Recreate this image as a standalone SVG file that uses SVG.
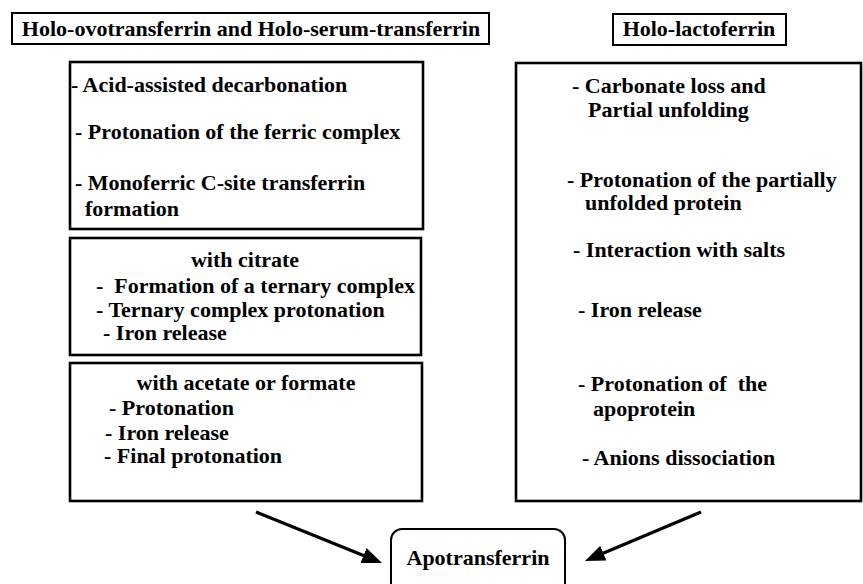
<svg xmlns="http://www.w3.org/2000/svg" width="863" height="584" viewBox="0 0 863 584">
<defs>
<style>
text{font-family:"Liberation Serif","Times New Roman",serif;font-weight:bold;font-size:22px;fill:#000;white-space:pre}
.box{fill:#fff;stroke:#000;stroke-width:2.6}
.hdr{fill:#fff;stroke:#000;stroke-width:2}
.mid{text-anchor:middle}
.conn{stroke:#000;stroke-width:3.2;fill:none}
</style>
<marker id="ah" viewBox="0 0 20 16" refX="8" refY="8" markerWidth="20" markerHeight="16" markerUnits="userSpaceOnUse" orient="auto">
<path d="M0,0 L20,8 L0,16 z" fill="#000"/>
</marker>
</defs>
<rect width="863" height="584" fill="#fff"/>
<g id="hdr-left">
<rect class="hdr" x="12" y="13" width="477" height="31"/>
<text x="251" y="36" class="mid">Holo-ovotransferrin and Holo-serum-transferrin</text>
</g>
<g id="hdr-right">
<rect class="hdr" x="613" y="14" width="173" height="31"/>
<text x="699" y="36" class="mid">Holo-lactoferrin</text>
</g>
<g id="box1">
<rect class="box" x="70" y="62" width="353" height="167"/>
<text x="71" y="92">- Acid-assisted decarbonation</text>
<text x="75" y="139">- Protonation of the ferric complex</text>
<text x="75" y="190">- Monoferric C-site transferrin</text>
<text x="85" y="216">formation</text>
</g>
<g id="box2">
<rect class="box" x="70" y="238" width="351" height="117"/>
<text x="245" y="267" class="mid">with citrate</text>
<text x="96" y="293">-  Formation of a ternary complex</text>
<text x="96" y="317">- Ternary complex protonation</text>
<text x="103" y="340">- Iron release</text>
</g>
<g id="box3">
<rect class="box" x="70" y="363" width="352" height="138"/>
<text x="246" y="390" class="mid">with acetate or formate</text>
<text x="109" y="415">- Protonation</text>
<text x="105" y="440">- Iron release</text>
<text x="104" y="463">- Final protonation</text>
</g>
<g id="box-right">
<rect class="box" x="516" y="63" width="345" height="438"/>
<text x="572" y="93">- Carbonate loss and</text>
<text x="588" y="117">Partial unfolding</text>
<text x="567" y="187">- Protonation of the partially</text>
<text x="585" y="210">unfolded protein</text>
<text x="573" y="257">- Interaction with salts</text>
<text x="578" y="317">- Iron release</text>
<text x="578" y="391">- Protonation of  the</text>
<text x="593" y="416">apoprotein</text>
<text x="582" y="465">- Anions dissociation</text>
</g>
<g id="apotransferrin">
<rect class="hdr" x="391" y="529" width="174" height="70" rx="11" ry="11"/>
<text x="478" y="565" class="mid">Apotransferrin</text>
</g>
<g id="connectors">
<line class="conn" x1="256" y1="512" x2="370.9" y2="558.5" marker-end="url(#ah)"/>
<line class="conn" x1="701" y1="512" x2="596" y2="556.3" marker-end="url(#ah)"/>
</g>
</svg>
